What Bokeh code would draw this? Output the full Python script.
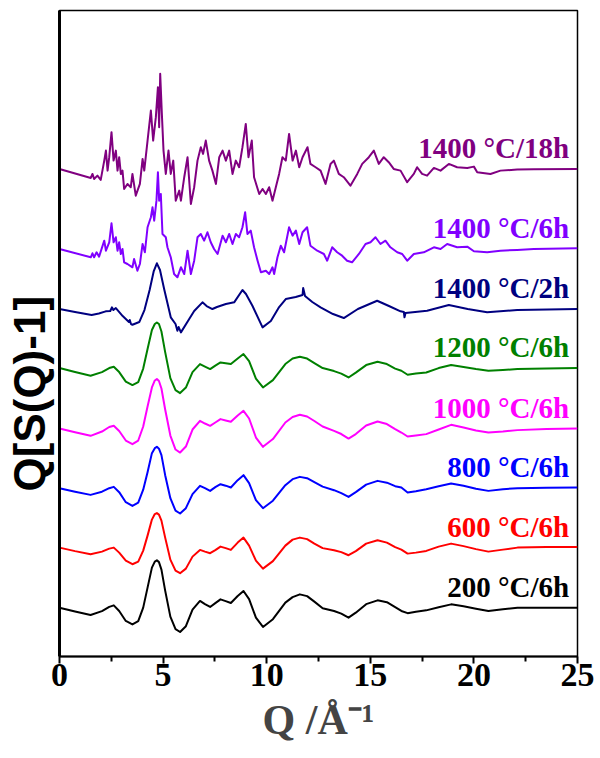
import numpy as np
from bokeh.plotting import figure
from bokeh.models import Range1d, FixedTicker, Title
from bokeh.core.properties import value
from bokeh.embed import file_html
from bokeh.resources import INLINE

# ---------------- data ----------------
# common Q grid for the smooth patterns (1/Angstrom)
q_smooth = [0, 0.75, 1.5, 2.05, 2.4, 2.62, 2.88, 3.2, 3.52, 3.8,
            4.04, 4.25, 4.46, 4.6, 4.7, 4.8, 4.92, 5.1, 5.35, 5.6,
            5.82, 6.1, 6.42, 6.78, 7.02, 7.27, 7.52, 7.77, 8.02, 8.27,
            8.6, 8.88, 9.15, 9.48, 9.82, 10.3, 10.9, 11.25, 11.6, 11.95,
            12.3, 12.7, 13.25, 13.6, 13.95, 14.3, 14.8, 15.35, 15.8, 16.2,
            16.5, 16.8, 17.2, 17.7, 18.3, 18.9, 19.5, 20.1, 20.7, 21.4,
            22.1, 23.5, 25]

s200 = [0, -0.38, -0.73, -0.35, 0.08, 0.23, -0.33, -1.33, -1.67, -1.35,
        0.0, 2.0, 4.0, 4.6, 4.73, 4.55, 3.8, 1.7, -0.9, -2.15,
        -2.43, -1.85, -0.2, 0.67, 0.35, 0.07, 0.45, 0.83, 0.65, 0.47,
        1.17, 1.67, 0.85, -1.0, -1.93, -1.15, 0.5, 1.05, 1.33, 1.15,
        0.6, -0.05, -0.33, -0.6, -1.0, -0.5, 0.35, 0.73, 0.55, 0.05,
        -0.33, -0.55, -0.4, -0.27, 0.05, 0.33, 0.15, -0.1, -0.33, -0.15,
        0.0, 0.0, 0.0]
s600 = [0, -0.35, -0.66, -0.4, -0.1, 0.0, -0.5, -1.3, -1.66, -1.4,
        -0.3, 1.2, 2.8, 3.35, 3.45, 3.3, 2.7, 1.0, -1.2, -2.3,
        -2.56, -2.1, -0.9, -0.23, -0.4, -0.56, -0.25, 0.1, -0.05, -0.23,
        0.5, 1.0, 0.2, -1.3, -2.1, -1.35, 0.2, 0.8, 1.0, 0.85,
        0.4, -0.05, -0.26, -0.45, -0.76, -0.35, 0.4, 0.74, 0.5, 0.05,
        -0.2, -0.6, -0.5, -0.33, 0.1, 0.4, 0.15, -0.15, -0.4, -0.2,
        0.0, 0.05, 0.07]
s800 = [0, -0.35, -0.67, -0.35, 0.0, 0.13, -0.4, -1.4, -1.77, -1.45,
        -0.15, 1.6, 3.5, 4.0, 4.13, 3.95, 3.3, 1.3, -1.0, -2.25,
        -2.53, -2.0, -0.6, 0.23, 0.0, -0.27, 0.1, 0.4, 0.25, 0.07,
        0.8, 1.3, 0.5, -1.2, -2.0, -1.25, 0.3, 0.9, 1.13, 1.0,
        0.6, 0.15, -0.2, -0.5, -0.87, -0.4, 0.35, 0.73, 0.55, 0.2,
        0.06, -0.44, -0.3, -0.1, 0.2, 0.46, 0.25, -0.05, -0.27, -0.1,
        0.0, 0.05, 0.06]
s1000 = [0, -0.38, -0.73, -0.3, 0.15, 0.27, -0.25, -1.2, -1.56, -1.2,
         0.2, 2.2, 4.1, 4.8, 4.94, 4.75, 4.0, 1.9, -0.7, -2.1,
         -2.4, -1.8, -0.1, 0.77, 0.5, 0.27, 0.6, 0.94, 0.8, 0.67,
         1.3, 1.77, 1.0, -0.9, -1.83, -1.05, 0.6, 1.15, 1.37, 1.2,
         0.75, 0.2, -0.23, -0.55, -1.0, -0.55, 0.3, 0.7, 0.45, -0.05,
         -0.4, -0.8, -0.7, -0.56, -0.1, 0.37, 0.1, -0.2, -0.4, -0.3,
         -0.16, -0.05, 0.0]
s1200 = [0, -0.4, -0.77, -0.4, 0.0, 0.13, -0.4, -1.35, -1.7, -1.4,
         -0.05, 1.9, 3.8, 4.4, 4.56, 4.4, 3.65, 1.6, -1.0, -2.2,
         -2.5, -1.95, -0.4, 0.4, 0.15, -0.1, 0.25, 0.56, 0.48, 0.4,
         0.95, 1.4, 0.7, -1.05, -1.94, -1.2, 0.4, 0.95, 1.13, 0.95,
         0.5, 0.0, -0.3, -0.55, -0.94, -0.45, 0.3, 0.63, 0.4, -0.05,
         -0.27, -0.67, -0.55, -0.44, 0.0, 0.3, 0.1, -0.1, -0.27, -0.2,
         -0.1, -0.03, 0.0]

q_1400_2h = [0, 0.75, 1.55, 1.9, 2.23, 2.45, 2.53, 2.6, 2.72, 3.05, 3.35, 3.39, 3.45, 3.52, 3.85,
             4.1, 4.35, 4.55, 4.7, 4.85, 5.05, 5.37, 5.6, 5.69, 5.75, 5.86, 6.26, 6.5, 6.9, 7.1,
             7.38, 7.6, 8.03, 8.43, 8.83, 9.0, 9.31, 9.8, 10.2, 10.6, 10.92, 11.4, 11.73, 11.76,
             11.85, 12.2, 12.6, 13.2, 13.72, 14.4, 15.33, 15.9, 16.46, 16.62, 16.65, 16.7, 17.74,
             18.79, 19.7, 20.64, 22.09, 25]
s1400_2h = [0, -0.3, -0.6, -0.45, -0.23, -0.2, 0.17, -0.1, 0.1, -0.7, -1.3, -1.1, -1.5, -1.57, -1.3,
            -0.1, 1.9, 3.8, 4.57, 3.9, 2.0, -0.83, -1.5, -2.17, -1.8, -2.33, -1.0, -0.2, 0.67, 0.3,
            0.0, 0.2, 0.5, 0.67, 1.9, 1.5, 0.33, -1.83, -1.2, 0.2, 1.0, 1.2, 1.4, 2.1,
            1.3, 0.7, 0.17, -0.5, -0.9, 0.0, 0.83, 0.3, -0.23, -0.3, -0.83, -0.4, -0.17,
            0.4, 0.0, -0.33, -0.1, 0.0]

q_1400_6h = [0, 1.51, 1.59, 1.67, 1.79, 1.91, 2.16, 2.24, 2.40, 2.51, 2.61, 2.72, 2.80, 2.88, 2.96,
             3.04, 3.12, 3.28, 3.52, 3.60, 3.76, 3.88, 4.01, 4.12, 4.25, 4.41, 4.49, 4.57, 4.68,
             4.75, 4.81, 4.89, 4.97, 5.13, 5.21, 5.37, 5.53, 5.69, 5.86, 6.02, 6.18, 6.34, 6.50,
             6.66, 6.82, 6.98, 7.14, 7.30, 7.46, 7.63, 7.87, 8.03, 8.19, 8.35, 8.51, 8.67, 8.83,
             8.96, 9.07, 9.23, 9.39, 9.56, 9.72, 9.96, 10.12, 10.28, 10.36, 10.52, 10.68, 10.84,
             11.08, 11.25, 11.41, 11.57, 11.73, 11.95, 12.11, 12.44, 12.76, 12.92, 13.16, 13.40,
             13.64, 13.88, 14.12, 14.45, 14.77, 15.01, 15.25, 15.49, 15.73, 15.97, 16.30, 16.54,
             16.78, 17.10, 17.58, 18.07, 18.39, 18.71, 19.19, 19.68, 20.00, 20.64, 21.28, 22.09,
             22.89, 25]
s1400_6h = [0, -0.83, -0.43, -0.83, -0.33, -0.77, 0.83, -0.17, 0.67, 2.57, 0.67, 1.17, -0.17, 0.67, -0.5,
            0.0, -1.33, -1.5, -1.83, -1.0, -2.17, -1.5, 0.5, -0.33, 2.17, 3.17, 4.17, 2.83, 4.83,
            7.67, 4.83, 5.5, 1.5, 1.17, 0.17, -0.83, -2.5, -2.83, -1.83, -2.5, -0.17, -2.5, -1.17,
            1.17, 1.5, 0.83, 1.67, 0.67, 0.0, -0.5, 1.33, 0.67, 1.5, 0.5, 1.5, 1.17, 2.17,
            3.67, 1.5, 1.83, 0.17, -1.17, -2.33, -2.17, -2.5, -1.83, -2.5, -0.83, 0.33, -0.33,
            2.17, 1.33, 1.83, 0.5, 1.67, 2.17, 0.33, -0.17, -0.5, -1.17, 0.17, -0.33,
            -0.67, -1.17, -1.33, -0.5, 0.5, 0.67, 1.17, 0.5, 0.83, 0.17, -0.33, -0.5,
            -1.17, -0.5, -0.33, 0.17, 0.0, 0.5, 0.17, 0.23, -0.23, -0.33, -0.17, -0.1,
            0.0, 0.07]

q_1400_18h = [0, 1.51, 1.59, 1.67, 1.83, 1.99, 2.16, 2.24, 2.32, 2.40, 2.51, 2.61, 2.72, 2.80, 2.88,
              2.96, 3.04, 3.12, 3.28, 3.44, 3.52, 3.68, 3.88, 4.01, 4.09, 4.25, 4.41, 4.52, 4.65,
              4.75, 4.81, 4.86, 4.94, 5.02, 5.13, 5.26, 5.37, 5.49, 5.61, 5.78, 5.86, 6.02, 6.18,
              6.34, 6.50, 6.66, 6.82, 6.93, 7.06, 7.22, 7.38, 7.55, 7.71, 7.87, 8.03, 8.19, 8.35,
              8.51, 8.67, 8.83, 8.99, 9.12, 9.28, 9.39, 9.64, 9.80, 9.96, 10.12, 10.28, 10.44,
              10.60, 10.76, 10.92, 11.08, 11.25, 11.41, 11.57, 11.73, 11.97, 12.11, 12.36, 12.60,
              12.84, 13.08, 13.24, 13.48, 13.72, 14.04, 14.37, 14.61, 14.93, 15.17, 15.41, 15.65,
              15.89, 16.13, 16.46, 16.78, 17.10, 17.26, 17.50, 17.74, 18.07, 18.39, 18.79, 19.19,
              19.68, 20.00, 20.16, 20.80, 21.28, 22.09, 22.89, 25]
s1400_18h = [0, -0.9, -0.5, -1.0, -0.67, -1.1, 0.83, 1.83, -0.17, 1.17, 3.67, 0.83, 1.83, -0.17, 1.17,
             -0.5, -0.17, -2.0, -1.5, -1.83, -0.5, -2.67, -1.5, 1.0, -0.17, 2.83, 5.83, 2.83, 5.17,
             8.17, 4.17, 9.5, 5.5, 1.83, -0.5, 1.83, -0.5, 0.83, -3.17, -2.17, -3.17, -0.83, 1.17,
             -3.5, -1.83, 0.83, 2.17, 1.5, 2.83, 0.83, -0.17, -1.5, 1.17, 1.83, 0.83, 1.83, -0.5,
             0.83, 0.17, 2.17, 4.5, 1.17, 2.83, -0.83, -2.5, -2.0, -2.5, -1.83, -3.17, -1.83,
             -0.5, 1.17, 0.83, 3.5, 0.83, 1.83, 0.17, 1.17, 2.17, 0.5, 0.17, -0.17,
             -1.5, 0.5, 0.83, -0.5, -0.83, -1.67, -0.5, 0.5, 1.17, 1.83, 0.5, 1.17,
             0.67, 0.0, -0.17, -1.33, -0.5, 0.17, -0.5, -0.67, 0.1, -0.17, 0.5, 0.17,
             0.1, 0.23, -0.33, -0.5, -0.17, -0.07, -0.03, 0.0]

labels = ["200 °C/6h", "600 °C/6h", "800 °C/6h", "1000 °C/6h",
          "1200 °C/6h", "1400 °C/2h", "1400 °C/6h", "1400 °C/18h"]
offsets = [4.88, 10.88, 16.82, 22.78, 28.82, 34.72, 40.72, 48.72]
colors = ["#000000", "#ff0000", "#0000ff", "#ff00ff",
          "#008000", "#000080", "#8000ff", "#800080"]
x_ticks = [0, 5, 10, 15, 20, 25]
x_minor_ticks = [2.5, 7.5, 12.5, 17.5, 22.5]

series = [(q_smooth, s200), (q_smooth, s600), (q_smooth, s800), (q_smooth, s1000),
          (q_smooth, s1200), (q_1400_2h, s1400_2h), (q_1400_6h, s1400_6h), (q_1400_18h, s1400_18h)]

# ---------------- figure ----------------
p = figure(width=600, height=758, output_backend="svg", toolbar_location=None,
           x_range=Range1d(0, 25), y_range=Range1d(0, 64.55),
           min_border_left=59, min_border_right=23, min_border_top=10, min_border_bottom=102)
p.background_fill_color = "white"
p.border_fill_color = "white"
p.grid.visible = False
p.outline_line_color = "black"
p.outline_line_width = 1.5

for (q, s), off, c in zip(series, offsets, colors):
    p.line(np.array(q), np.array(s) + off, line_color=c, line_width=2,
           line_join="round")

label_q = [24.6] * len(labels)
label_y = [o + 2.1 for o in offsets]
p.text(x=label_q, y=label_y, text=labels, text_color=colors,
       text_font=value("Liberation Serif"), text_font_style="bold",
       text_font_size="29px", text_align="right", text_baseline="alphabetic")

xa = p.xaxis[0]
xa.ticker = FixedTicker(ticks=x_ticks, minor_ticks=x_minor_ticks)
xa.axis_line_width = 2
xa.major_tick_line_width = 2
xa.minor_tick_line_width = 2
xa.major_tick_out = 7
xa.major_tick_in = 0
xa.minor_tick_out = 5
xa.minor_tick_in = 0
xa.major_label_text_font = "Liberation Serif"
xa.major_label_text_font_style = "bold"
xa.major_label_text_font_size = "34px"
xa.major_label_text_color = "black"
xa.major_label_standoff = 0
xa.axis_label = "Q /Å⁻¹"
xa.axis_label_text_font = "Liberation Serif"
xa.axis_label_text_font_style = "bold"
xa.axis_label_text_font_size = "42px"
xa.axis_label_standoff = 8

ya = p.yaxis[0]
ya.axis_line_width = 3
ya.major_tick_line_color = None
ya.minor_tick_line_color = None
ya.major_label_text_font_size = "0px"
ya.major_label_text_color = None
ya.major_label_standoff = 0

# y-axis title (sits a little below the frame centre in the reference)
ytitle = Title(text="Q[S(Q)-1]", align="left", offset=165, standoff=0,
               text_font="Liberation Sans", text_font_style="bold",
               text_font_size="44px", text_color="black")
p.add_layout(ytitle, "left")

open("out.html", "w").write(file_html(p, INLINE))
